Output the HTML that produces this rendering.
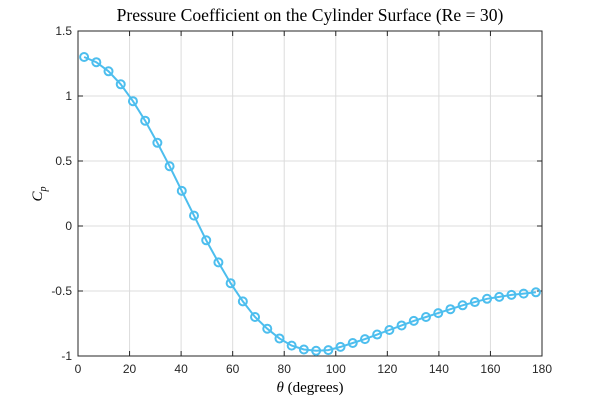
<!DOCTYPE html>
<html><head><meta charset="utf-8"><style>
body{margin:0;background:#fff;}
svg text{font-family:"Liberation Sans",sans-serif;font-size:12px;fill:#262626;}
.serif{font-family:"Liberation Serif",serif !important;}
</style></head><body>
<svg id="chart" width="600" height="400">
<rect width="600" height="400" fill="#fff"/>
<g id="grid"></g><g id="axes"></g><g id="series"></g>
<text class="serif" x="310" y="21" text-anchor="middle" style="font-size:17.6px;fill:#000">Pressure Coefficient on the Cylinder Surface (Re = 30)</text>
<text class="serif" x="310" y="392" text-anchor="middle" style="font-size:15px;fill:#000"><tspan font-style="italic">θ</tspan> (degrees)</text>
<text class="serif" transform="translate(42,194) rotate(-90)" text-anchor="middle" style="font-size:15px;fill:#000;font-style:italic">C<tspan font-size="10" dy="4">p</tspan></text>
</svg>
<script>
const theta=[2.37,7.11,11.84,16.58,21.32,26.05,30.79,35.53,40.26,45,49.74,54.47,59.21,63.95,68.68,73.42,78.16,82.89,87.63,92.37,97.11,101.84,106.58,111.32,116.05,120.79,125.53,130.26,135,139.74,144.47,149.21,153.95,158.68,163.42,168.16,172.89,177.63];
const cp=[1.30,1.26,1.19,1.09,0.96,0.81,0.64,0.46,0.27,0.08,-0.11,-0.28,-0.44,-0.58,-0.70,-0.79,-0.865,-0.92,-0.95,-0.96,-0.955,-0.93,-0.90,-0.87,-0.835,-0.80,-0.765,-0.73,-0.70,-0.67,-0.64,-0.61,-0.585,-0.56,-0.545,-0.53,-0.52,-0.51];
const xTicks=[0,20,40,60,80,100,120,140,160,180];
const yTicks=[-1,-0.5,0,0.5,1,1.5];
const yTickLabels=["-1","-0.5","0","0.5","1","1.5"];
const L=78,R=542,T=31,B=356;
const X=v=>L+(v-0)/180*(R-L), Y=v=>B-(v+1)/2.5*(B-T);
const NS="http://www.w3.org/2000/svg";
function mk(tag,attrs,parent){const e=document.createElementNS(NS,tag);for(const k in attrs)e.setAttribute(k,attrs[k]);parent.appendChild(e);return e;}
const grid=document.getElementById('grid'),axes=document.getElementById('axes'),series=document.getElementById('series');
xTicks.forEach(t=>{
 const g=mk('line',{x1:X(t),x2:X(t),y1:T,y2:B,stroke:'#dcdcdc','stroke-width':1},grid);
 
 
 mk('line',{x1:X(t),x2:X(t),y1:B,y2:B-5,stroke:'#262626'},axes);
 mk('line',{x1:X(t),x2:X(t),y1:T,y2:T+5,stroke:'#262626'},axes);
 const tx=mk('text',{x:X(t),y:B+17,'text-anchor':'middle'},axes);tx.textContent=t;
 
 
});
yTicks.forEach((t,i)=>{
 const g=mk('line',{x1:L,x2:R,y1:Y(t),y2:Y(t),stroke:'#dcdcdc','stroke-width':1},grid);
 
 
 mk('line',{x1:L,x2:L+5,y1:Y(t),y2:Y(t),stroke:'#262626'},axes);
 mk('line',{x1:R,x2:R-5,y1:Y(t),y2:Y(t),stroke:'#262626'},axes);
 const tx=mk('text',{x:L-6,y:Y(t)+4,'text-anchor':'end'},axes);tx.textContent=yTickLabels[i];
 
 
});
const box=mk('rect',{x:L,y:T,width:R-L,height:B-T,fill:'none',stroke:'#262626','stroke-width':1},axes);


const line=mk('polyline',{points:theta.map((t,i)=>X(t)+','+Y(cp[i])).join(' '),fill:'none',stroke:'#4dbeee','stroke-width':2},series);


theta.forEach((t,i)=>{
 const c=mk('circle',{cx:X(t),cy:Y(cp[i]),r:4,fill:'none',stroke:'#4dbeee','stroke-width':2},series);
 
 
});
</script>
</body></html>
